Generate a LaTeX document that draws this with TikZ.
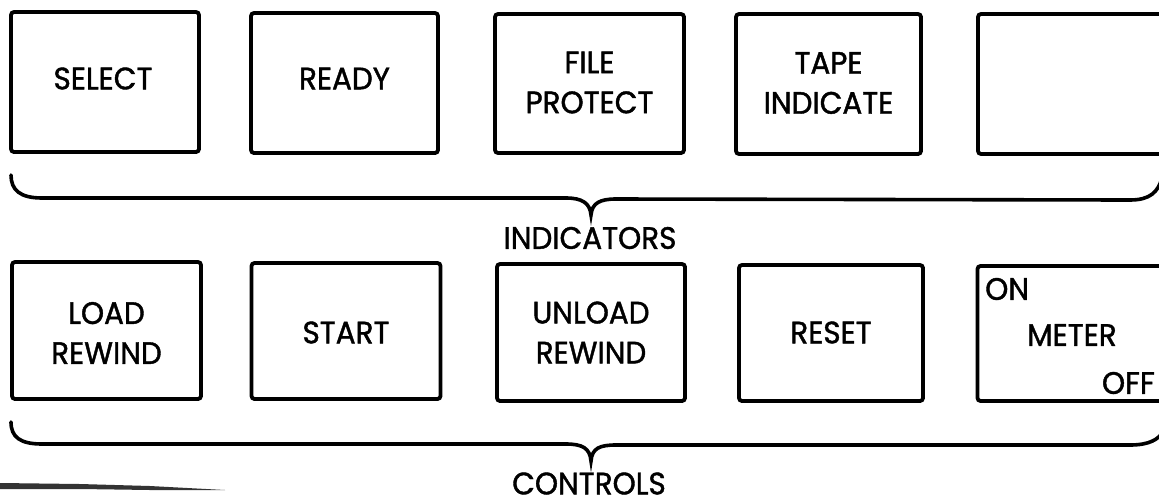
\documentclass[tikz,border=0pt]{standalone}
\usepackage{fontspec}
\setmainfont{Poppins}[FakeStretch=0.95, FakeBold=1.3]
\begin{document}
\begin{tikzpicture}[x=1pt,y=-1pt,
  panel/.style={draw=black, line width=3.8pt, rounded corners=3pt, inner sep=0pt},
  lbl/.style={inner sep=0pt, align=center, font=\fontsize{31}{40}\selectfont},
  brace/.style={draw=black, line width=3.6pt, line cap=round}]
\useasboundingbox (0,0) rectangle (1159,499);
% indicator row
\node[panel, minimum width=188pt, minimum height=140pt] (b1) at (105,82) {};
\node[panel, minimum width=187pt, minimum height=140pt] (b2) at (344.5,83) {};
\node[panel, minimum width=189pt, minimum height=139pt] (b3) at (589.5,83.5) {};
\node[panel, minimum width=185pt, minimum height=140pt] (b4) at (828.5,84) {};
\node[panel, minimum width=188pt, minimum height=140pt] (b5) at (1072,84) {};
\node[lbl] (t1) at (103,78.5) {SELECT};
\node[lbl] (t2) at (344.5,78.5) {READY};
\node[lbl] (t3) at (589.5,82.5) {FILE\\PROTECT};
\node[lbl] (t4) at (828.5,83) {TAPE\\INDICATE};
% controls row
\node[panel, minimum width=189pt, minimum height=137pt] (c1) at (106.5,330.5) {};
\node[panel, minimum width=189pt, minimum height=136pt] (c2) at (346,331) {};
\node[panel, minimum width=188pt, minimum height=137pt] (c3) at (591,332.5) {};
\node[panel, minimum width=184pt, minimum height=136pt] (c4) at (831,333) {};
\node[panel, minimum width=188pt, minimum height=135pt] (c5) at (1071.5,333.5) {};
\node[lbl] (u1) at (106.5,333) {LOAD\\REWIND};
\node[lbl] (u2) at (346,332.5) {START};
\node[lbl] (u3) at (591,332.5) {UNLOAD\\REWIND};
\node[lbl] (u4) at (831,332.5) {RESET};
\node[lbl, anchor=west] (m1) at (985,289) {ON};
\node[lbl] (m2) at (1072,335) {METER};
\node[lbl, anchor=east] (m3) at (1155,383) {OFF};
% braces
\coordinate (ia) at (11,175);
\coordinate (it) at (591,215);
\coordinate (ib) at (1162,178);
\draw[brace] (ia) .. controls (11,190) and (20,198) .. (42,198) -- (566,198)
  .. controls (582,198) and (590,203) .. (it)
  .. controls (592,203) and (600,199) .. (616,199) -- (1130,200)
  .. controls (1150,200) and (1158,192) .. (ib);
\node[lbl] (ind) at (590,238) {INDICATORS};
\coordinate (ca) at (11,422);
\coordinate (ct) at (591,461);
\coordinate (cb) at (1162,433);
\draw[brace] (ca) .. controls (11,437) and (20,444) .. (42,444) -- (566,444)
  .. controls (582,444) and (590,448) .. (ct)
  .. controls (592,448) and (600,445) .. (616,445) -- (1130,445)
  .. controls (1150,445) and (1158,439) .. (cb);
\node[lbl] (ctl) at (589,483.5) {CONTROLS};
% scanning smudge
\fill[black!80] (0,483) -- (80,484) -- (150,486) -- (225,490) -- (150,490) -- (80,489) -- (0,489) -- cycle;
\end{tikzpicture}
\end{document}
